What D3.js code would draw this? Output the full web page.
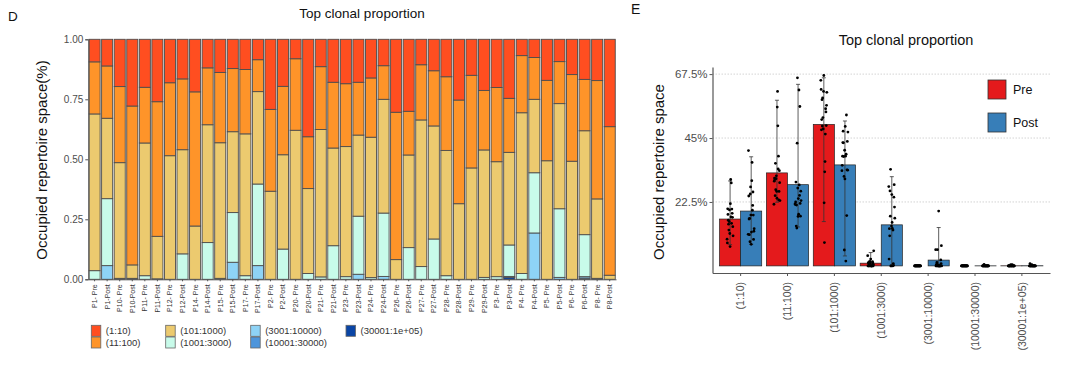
<!DOCTYPE html>
<html>
<head>
<meta charset="utf-8">
<script src="https://cdn.jsdelivr.net/npm/d3@7"></script>
<style>
  body { margin: 0; background: #fff; }
  svg { font-family: "Liberation Sans", Arial, sans-serif; }
</style>
</head>
<body>
<svg id="chart" width="1066" height="370"></svg>
<script>
const samples = ['P1- Pre', 'P1-Post', 'P10- Pre', 'P10-Post', 'P11- Pre', 'P11-Post', 'P12- Pre', 'P12-Post',
    'P14- Pre', 'P14-Post', 'P15- Pre', 'P15-Post', 'P17- Pre', 'P17-Post', 'P2- Pre', 'P2-Post',
    'P20- Pre', 'P20-Post', 'P21- Pre', 'P21-Post', 'P23- Pre', 'P23-Post', 'P24- Pre', 'P24-Post',
    'P26- Pre', 'P26-Post', 'P27- Pre', 'P27-Post', 'P28- Pre', 'P28-Post', 'P29- Pre', 'P29-Post',
    'P3- Pre', 'P3-Post', 'P4- Pre', 'P4-Post', 'P5- Pre', 'P5-Post', 'P6- Pre', 'P6-Post', 'P8- Pre', 'P8-Post'];

const sizeClasses = ['(1:10)', '(11:100)', '(101:1000)', '(1001:3000)', '(3001:10000)', '(10001:30000)', '(30001:1e+05)'];
const classColors = ['#ff4e20', '#fe9429', '#ecca6f', '#c8fbea', '#8ed3f6', '#4d95db', '#0a45a5'];

// proportion of repertoire per clone-size class, one value per sample
const prop1 = [.094, .111, .197, .278, .200, .260, .181, .165, .219, .119, .138, .122, .126, .085, .292, .196, .081, .406, .114, .179, .185,
    .179, .161, .110, .304, .300, .106, .131, .156, .253, .150, .213, .201, .246, .068, .076, .171, .093, .147, .167, .172, .364];
const prop2 = [.217, .218, .317, .662, .232, .561, .304, .295, .559, .237, .293, .263, .268, .133, .341, .285, .298, .216, .262, .274, .262,
    .220, .247, .140, .614, .182, .230, .230, .307, .432, .386, .248, .309, .225, .238, .174, .335, .175, .361, .214, .493, .619];
const prop3 = [.653, .335, .482, .056, .553, .177, .515, .434, .222, .491, .565, .337, .591, .385, .367, .393, .621, .354, .614, .407, .542,
    .338, .585, .474, .082, .386, .611, .471, .522, .315, .464, .531, .479, .386, .670, .306, .494, .438, .492, .433, .331, .017];
const prop4 = [.036, .279, 0, 0, .015, .002, 0, .106, 0, .153, .004, .207, .015, .340, 0, .126, 0, .024, .010, .140, .011,
    .242, .007, .264, 0, .132, .053, .168, .015, 0, 0, .008, .011, .131, .024, .251, 0, .286, 0, .175, 0, 0];
const prop5 = [0, .057, 0, 0, 0, 0, 0, 0, 0, 0, 0, .071, 0, .057, 0, 0, 0, 0, 0, 0, 0,
    .021, 0, .012, 0, 0, 0, 0, 0, 0, 0, 0, 0, .004, 0, .193, 0, .008, 0, .006, 0, 0];
const prop6 = [0, 0, 0, 0, 0, 0, 0, 0, 0, 0, 0, 0, 0, 0, 0, 0, 0, 0, 0, 0, 0,
    0, 0, 0, 0, 0, 0, 0, 0, 0, 0, 0, 0, 0, 0, 0, 0, 0, 0, .005, 0, 0];
const prop7 = [0, 0, .004, .004, 0, 0, 0, 0, 0, 0, 0, 0, 0, 0, 0, 0, 0, 0, 0, 0, 0,
    0, 0, 0, 0, 0, 0, 0, 0, 0, 0, 0, 0, .008, 0, 0, 0, 0, 0, 0, .004, 0];
const props = [prop1, prop2, prop3, prop4, prop5, prop6, prop7];

// panel E error bars (percent); null = none drawn
const preErrLow = [7.5, 22.4, 15.6, 0, null, null, null];
const preErrHigh = [29.9, 58.3, 66.2, 4.7, null, null, null];
const postErrLow = [7.6, 13.7, 3.5, 0, 0, null, null];
const postErrHigh = [38.4, 63.9, 51.0, 31.4, 13.5, null, null];

const groups = ['Pre', 'Post'];
const groupColors = ['#e41a1c', '#377eb8'];
const pctTicks = [22.5, 45, 67.5];

const svg = d3.select('#chart');
const textGray = '#4d4d4d';

// ---------- panel D ----------
const rows = samples.map((s, i) => {
    const r = {sample: s};
    sizeClasses.forEach((c, k) => r[c] = props[k][i]);
    return r;
});
const stacked = d3.stack().keys(sizeClasses.slice().reverse())(rows);

const dx = d3.scaleBand().domain(samples).range([88.3, 616]).paddingInner(0.12).paddingOuter(0.06);
const dy = d3.scaleLinear().domain([0, 1]).range([279.3, 39.3]);
const colorOf = d3.scaleOrdinal().domain(sizeClasses).range(classColors);

svg.append('g')
    .selectAll('g')
    .data(stacked)
    .enter()
    .append('g')
    .attr('fill', d => colorOf(d.key))
    .selectAll('rect')
    .data(d => d)
    .enter()
    .append('rect')
    .attr('x', d => dx(d.data.sample))
    .attr('width', dx.bandwidth())
    .attr('y', d => dy(d[1]))
    .attr('height', d => dy(d[0]) - dy(d[1]))
    .attr('stroke', '#4d4d4d')
    .attr('stroke-width', 0.9);

svg.append('g')
    .attr('transform', 'translate(88.3,0)')
    .call(d3.axisLeft(dy).tickValues([0, .25, .5, .75, 1]).tickFormat(d3.format('.2f')).tickSize(3).tickPadding(2))
    .call(g => g.select('.domain').attr('stroke', '#555'))
    .call(g => g.selectAll('.tick line').attr('stroke', '#555'))
    .call(g => g.selectAll('.tick text').attr('fill', textGray).style('font-size', '10px'));

svg.append('g')
    .attr('transform', 'translate(0,279.3)')
    .call(d3.axisBottom(dx).tickSize(2).tickSizeOuter(0))
    .call(g => g.select('.domain').attr('stroke', '#555'))
    .call(g => g.selectAll('.tick line').attr('stroke', '#555'))
    .call(g => g.selectAll('.tick text')
        .attr('transform', 'rotate(-90)')
        .attr('x', -5).attr('y', 0).attr('dy', '0.35em')
        .attr('text-anchor', 'end')
        .attr('fill', '#333')
        .style('font-size', '7px'));

svg.append('text').attr('x', 8).attr('y', 21).text('D')
    .style('font-size', '13.5px').attr('fill', '#111');
svg.append('text').attr('x', 362).attr('y', 18).attr('text-anchor', 'middle')
    .text('Top clonal proportion').style('font-size', '13.5px').attr('fill', '#111');
svg.append('text')
    .attr('transform', 'translate(47,160) rotate(-90)')
    .attr('text-anchor', 'middle')
    .text('Occupied repertoire space(%)')
    .style('font-size', '15px').attr('fill', '#111');

// legend D
const legCols = [91.3, 165.7, 250.7, 346];
const legend = svg.append('g');
sizeClasses.forEach((c, k) => {
    const lx = legCols[Math.floor(k / 2)];
    const ly = 325.3 + (k % 2) * 11.7;
    legend.append('rect').attr('x', lx).attr('y', ly).attr('width', 9.5).attr('height', 11)
        .attr('fill', classColors[k]).attr('stroke', '#666').attr('stroke-width', 0.8);
    legend.append('text').attr('x', lx + 14.5).attr('y', ly + 5.5).attr('dy', '0.35em')
        .text(c).style('font-size', '9.5px').attr('fill', '#333');
});

// ---------- panel E ----------
const ex = d3.scaleBand().domain(sizeClasses).range([712.5, 1050]).paddingInner(0.1).paddingOuter(0.15);
const eg = d3.scaleBand().domain(groups).range([0, ex.bandwidth()]);
const ey = d3.scaleLinear().domain([-2.5, 70]).range([273, 67]);

const ePlot = svg.append('g');

ePlot.selectAll('line.grid')
    .data(pctTicks)
    .enter()
    .append('line')
    .attr('x1', 712.5).attr('x2', 1050)
    .attr('y1', d => ey(d)).attr('y2', d => ey(d))
    .attr('stroke', '#d4d4d4').attr('stroke-width', 1).attr('stroke-dasharray', '1.5,1.5');

const errLow = [preErrLow, postErrLow];
const errHigh = [preErrHigh, postErrHigh];
const eBars = [];
sizeClasses.forEach((c, k) => {
    groups.forEach((gname, gi) => {
        const vals = props[k].filter((v, i) => i % 2 === gi).map(v => v * 100);
        eBars.push({cls: c, k: k, group: gname, gi: gi, vals: vals, mean: d3.mean(vals),
            lo: errLow[gi][k], hi: errHigh[gi][k]});
    });
});

ePlot.selectAll('rect.bar')
    .data(eBars)
    .enter()
    .append('rect')
    .attr('x', d => ex(d.cls) + eg(d.group))
    .attr('width', eg.bandwidth())
    .attr('y', d => ey(d.mean))
    .attr('height', d => ey(0) - ey(d.mean))
    .attr('fill', d => groupColors[d.gi])
    .attr('stroke', '#222').attr('stroke-width', 0.7);

// error bars
const errs = eBars.filter(d => d.lo !== null);
const cxOf = d => ex(d.cls) + eg(d.group) + eg.bandwidth() / 2;
ePlot.selectAll('line.err')
    .data(errs)
    .enter()
    .append('line')
    .attr('x1', cxOf).attr('x2', cxOf)
    .attr('y1', d => ey(d.lo)).attr('y2', d => ey(d.hi))
    .attr('stroke', '#333').attr('stroke-width', 0.8);
['lo', 'hi'].forEach(key => {
    ePlot.selectAll('line.cap-' + key)
        .data(errs)
        .enter()
        .append('line')
        .attr('x1', d => cxOf(d) - 2).attr('x2', d => cxOf(d) + 2)
        .attr('y1', d => ey(d[key])).attr('y2', d => ey(d[key]))
        .attr('stroke', '#333').attr('stroke-width', 0.8);
});

// jittered points
const pts = [];
eBars.forEach(d => d.vals.forEach((v, i) => pts.push({x: cxOf(d) + (((i * 8) % 21) / 20 - 0.5) * 6, v: v})));
ePlot.selectAll('circle')
    .data(pts)
    .enter()
    .append('circle')
    .attr('cx', d => d.x)
    .attr('cy', d => ey(d.v))
    .attr('r', 1.4)
    .attr('fill', '#000');

svg.append('g')
    .attr('transform', 'translate(712.5,0)')
    .call(d3.axisLeft(ey).tickValues(pctTicks).tickFormat(d => d + '%').tickSize(3).tickPadding(2).tickSizeOuter(0))
    .call(g => g.select('.domain').attr('stroke', '#555').attr('stroke-width', 1.2))
    .call(g => g.selectAll('.tick line').attr('stroke', '#555'))
    .call(g => g.selectAll('.tick text').attr('fill', textGray).style('font-size', '11.5px'));

svg.append('g')
    .attr('transform', 'translate(0,273)')
    .call(d3.axisBottom(ex).tickSize(3).tickSizeOuter(0))
    .call(g => g.select('.domain').attr('stroke', '#555').attr('stroke-width', 1.2))
    .call(g => g.selectAll('.tick line').attr('stroke', '#555'))
    .call(g => g.selectAll('.tick text')
        .attr('transform', 'rotate(-90)')
        .attr('x', -9).attr('y', 0).attr('dy', '0.35em')
        .attr('text-anchor', 'end')
        .attr('fill', textGray)
        .style('font-size', '10.5px'));

svg.append('text').attr('x', 631).attr('y', 14).text('E')
    .style('font-size', '14px').attr('fill', '#111');
svg.append('text').attr('x', 906).attr('y', 45).attr('text-anchor', 'middle')
    .text('Top clonal proportion').style('font-size', '14.5px').attr('fill', '#111');
svg.append('text')
    .attr('transform', 'translate(664,172) rotate(-90)')
    .attr('text-anchor', 'middle')
    .text('Occupied repertoire space')
    .style('font-size', '15px').attr('fill', '#111');

// legend E
groups.forEach((gname, gi) => {
    const ly = 80 + gi * 33;
    svg.append('rect').attr('x', 988).attr('y', ly).attr('width', 18).attr('height', 19)
        .attr('fill', groupColors[gi]).attr('stroke', '#333').attr('stroke-width', 0.8);
    svg.append('text').attr('x', 1013).attr('y', ly + 9.5).attr('dy', '0.35em')
        .text(gname).style('font-size', '12.5px').attr('fill', '#111');
});
</script>
</body>
</html>
